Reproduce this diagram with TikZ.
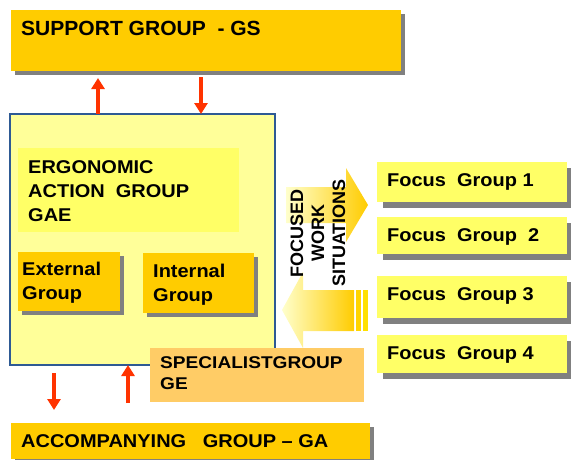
\documentclass[tikz,border=0pt]{standalone}
\usepackage{fontspec}
\setmainfont{Liberation Sans}
\usetikzlibrary{arrows.meta,shadows}

\definecolor{ouro}{HTML}{FFCC00}
\definecolor{creme}{HTML}{FFFF99}
\definecolor{amarelo}{HTML}{FFFF66}
\definecolor{pessego}{HTML}{FFCC66}
\definecolor{azulborda}{HTML}{2E5A94}
\definecolor{vermelho}{HTML}{FF3300}
\definecolor{cinza}{HTML}{808080}
\definecolor{palido}{HTML}{FFFFCC}

\begin{document}
\begin{tikzpicture}[
    x=1pt, y=-1pt,
    % Caixas posicionadas pelo canto superior esquerdo
    caixa/.style={anchor=north west, inner sep=0pt, outer sep=0pt},
    % Sombra cinza deslocada para baixo e para a direita
    sombra/.style={drop shadow={shadow xshift=#1, shadow yshift=-#1, fill=cinza, opacity=1}},
    % Texto em negrito alinhado pela linha de base (da ultima linha)
    texto/.style={anchor=base west, inner sep=0pt, align=left, xscale=1.08,
                  font=\bfseries\fontsize{18.5}{24}\selectfont},
    % Setas vermelhas entre os grupos
    seta/.style={-{Triangle[width=13pt,length=11pt]}, line width=3.5pt, draw=vermelho}
]
    \useasboundingbox (0,0) rectangle (571,459);

    % ==========================================
    % 1. GRUPOS DE SUPORTE E DE ACOMPANHAMENTO
    % ==========================================
    \node (gs) [caixa, fill=ouro, sombra=4pt, minimum width=390pt, minimum height=61pt] at (11,10) {};
    \node (gsTexto) [texto, xscale=0.95, font=\bfseries\fontsize{20.5}{24}\selectfont] at (21,35) {SUPPORT GROUP~~- GS};

    \node (ga) [caixa, fill=ouro, sombra=4pt, minimum width=359pt, minimum height=36pt] at (11,423) {};
    \node (gaTexto) [texto] at (21,447) {ACCOMPANYING~~~GROUP -- GA};

    % ==========================================
    % 2. GRUPO DE ACAO ERGONOMICA (caixa grande)
    % ==========================================
    \node (gae) [caixa, fill=creme, draw=azulborda, line width=2pt, minimum width=265pt, minimum height=251pt] at (10,114) {};
    \node (gaeCaixa) [caixa, fill=amarelo, minimum width=221pt, minimum height=84pt] at (18,148) {};
    \node (gaeTexto) [texto] at (28,221) {ERGONOMIC\\ACTION~~GROUP\\GAE};

    % Grupos externo e interno
    \node (ext) [caixa, fill=ouro, sombra=4pt, minimum width=102pt, minimum height=59pt] at (18,252) {};
    \node (extTexto) [texto] at (22,299) {External\\Group};
    \node (int) [caixa, fill=ouro, sombra=4pt, minimum width=111pt, minimum height=60pt] at (143,253) {};
    \node (intTexto) [texto] at (153,301) {Internal\\Group};

    % Grupo de especialistas (sobrepoe o canto da caixa grande)
    \node (ge) [caixa, fill=pessego, minimum width=214pt, minimum height=54pt] at (150,348) {};
    \node (geTexto) [texto, xscale=1.04, font=\bfseries\fontsize{17}{21}\selectfont] at (160,389) {SPECIALISTGROUP\\GE};

    % ==========================================
    % 3. GRUPOS DE FOCO
    % ==========================================
    \node (fg1) [caixa, fill=amarelo, sombra=6pt, minimum width=190pt, minimum height=40pt] at (377,162) {};
    \node (fg2) [caixa, fill=amarelo, sombra=6pt, minimum width=190pt, minimum height=37pt] at (377,217) {};
    \node (fg3) [caixa, fill=amarelo, sombra=6pt, minimum width=190pt, minimum height=42pt] at (377,276) {};
    \node (fg4) [caixa, fill=amarelo, sombra=6pt, minimum width=190pt, minimum height=38pt] at (377,335) {};
    \node (fg1Texto) [texto] at (387,186) {Focus~~Group 1};
    \node (fg2Texto) [texto] at (387,241) {Focus~~Group~~2};
    \node (fg3Texto) [texto] at (387,300) {Focus~~Group 3};
    \node (fg4Texto) [texto] at (387,359) {Focus~~Group 4};

    % ==========================================
    % 4. SETAS LARGAS (situacoes de trabalho)
    % ==========================================
    % Seta para a direita (ida aos grupos de foco)
    \shade[left color=palido, right color=ouro]
        (286,187) -- (346,187) -- (346,168) -- (368,205)
        -- (346,242) -- (346,223) -- (286,223) -- cycle;
    % Seta para a esquerda (retorno), com listras no fim
    \shade[left color=palido, right color=ouro]
        (282,310) -- (303,272) -- (303,290) -- (354,290)
        -- (354,331) -- (303,331) -- (303,348) -- cycle;
    \fill[ouro!85!yellow] (356,290) rectangle (361,331);
    \fill[ouro!60!yellow] (363,290) rectangle (368,331);

    \node (fws) [rotate=90, align=center, inner sep=0pt, font=\bfseries\fontsize{18}{21}\selectfont]
        at (318,233) {FOCUSED\\WORK\\SITUATIONS};

    % ==========================================
    % 5. SETAS VERMELHAS
    % ==========================================
    \draw[seta] ([xshift=88pt]gae.north west) -- ([xshift=87pt,yshift=-7pt]gs.south west);
    \draw[seta] ([xshift=190pt,yshift=-6pt]gs.south west) -- ([xshift=191pt]gae.north west);
    \draw[seta] ([xshift=44pt,yshift=-8pt]gae.south west) -- ([xshift=43pt,yshift=13pt]ga.north west);
    \draw[seta] ([xshift=117pt,yshift=20pt]ga.north west) -- ([xshift=118pt]gae.south west);

\end{tikzpicture}
\end{document}
